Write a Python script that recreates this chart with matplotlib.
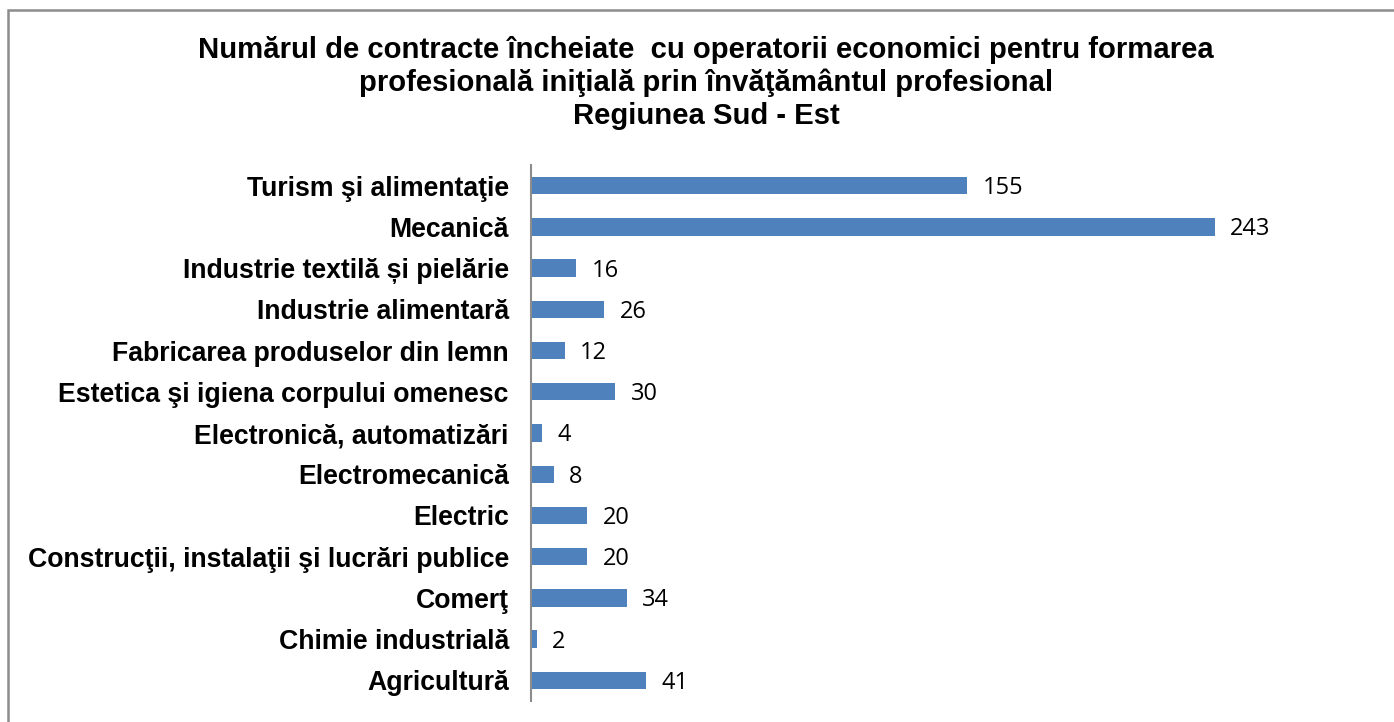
import matplotlib.pyplot as plt
from matplotlib.patches import Rectangle

categorii = ['Turism şi alimentaţie', 'Mecanică', 'Industrie textilă și pielărie',
             'Industrie alimentară', 'Fabricarea produselor din lemn',
             'Estetica şi igiena corpului omenesc', 'Electronică, automatizări',
             'Electromecanică', 'Electric', 'Construcţii, instalaţii şi lucrări publice',
             'Comerţ', 'Chimie industrială', 'Agricultură']
contracte = [155, 243, 16, 26, 12, 30, 4, 8, 20, 20, 34, 2, 41]

titlu = ('Numărul de contracte încheiate  cu operatorii economici pentru formarea\n'
         'profesională iniţială prin învăţământul profesional\n'
         'Regiunea Sud - Est')

fig = plt.figure(figsize=(13.94, 7.22), dpi=100)
ax = fig.add_axes([531/1394, 1-701/722, (1375-531)/1394, (701-165)/722])

y = list(range(len(categorii)))
ax.barh(y, contracte, height=0.42, color='#4F81BD')
ax.set_ylim(len(categorii)-0.5, -0.5)
ax.set_xlim(0, 300)

for yi, v in zip(y, contracte):
    ax.text(v + 5.5, yi + 0.06, str(v), va='center', ha='left', fontsize=17,
            family='Open Sans', color='black')

ax.set_yticks(y)
ax.set_yticklabels(categorii, fontsize=19.2, fontweight='bold', family='Liberation Sans')
ax.tick_params(axis='y', length=0, pad=16)
ax.set_xticks([])
for s in ['top', 'right', 'bottom']:
    ax.spines[s].set_visible(False)
ax.spines['left'].set_color('#8c8c8c')
ax.spines['left'].set_linewidth(1.5)

fig.text(706/1394, 1-83/722, titlu, ha='center', va='center', fontsize=21.1,
         fontweight='bold', family='Liberation Sans', linespacing=1.2)

fig.patches.append(Rectangle((8/1394, -0.1), 1.2, 1-10/722+0.1, transform=fig.transFigure,
                             fill=False, edgecolor='#8c8c8c', linewidth=1.8))

fig.savefig('out.png', dpi=100)
